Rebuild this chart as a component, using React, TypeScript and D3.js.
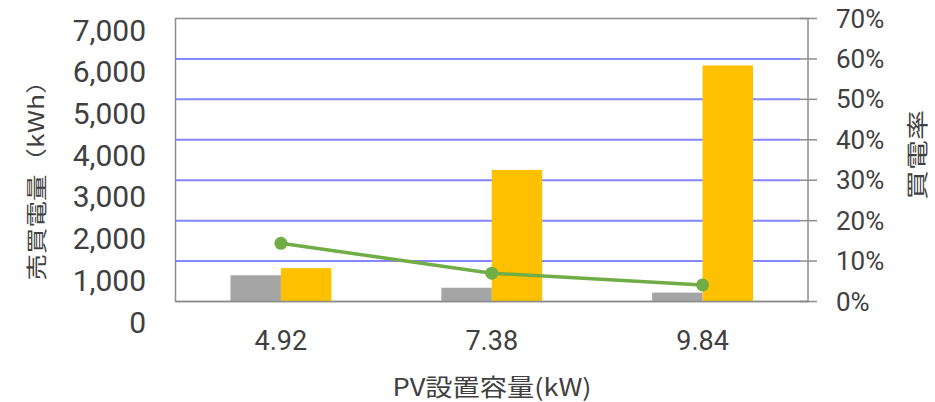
import React from "react";
import * as d3 from "d3";

const categories = ["4.92", "7.38", "9.84"];
const seriesKeys = ["buy", "sell"];
const buyPower = [648, 340, 220]; // gray bars (kWh)
const sellPower = [825, 3255, 5840]; // orange bars (kWh)
const buyRate = [0.144, 0.07, 0.041]; // green line
const leftTicks = [0, 1000, 2000, 3000, 4000, 5000, 6000, 7000];
const rightTicks = [0, 0.1, 0.2, 0.3, 0.4, 0.5, 0.6, 0.7];
const gridTicks = [0.1, 0.2, 0.3, 0.4, 0.5, 0.6];
const xTitle = "PV設置容量(kW)";
const leftTitle = "売買電量（kWh）";
const rightTitle = "買電率";

const W = 935;
const H = 402;
const plot = { left: 175.5, right: 808, top: 18.5, bottom: 301.5 };
const textColor = "#404040";
const colors = { buy: "#A5A5A5", sell: "#FFC000", line: "#70AD47", grid: "#8585FF", axis: "#8C8C8C" };

export default function App() {
  const x = d3.scaleBand<string>().domain(categories).range([plot.left, plot.right]).padding(0);
  const xInner = d3
    .scaleBand<string>()
    .domain(seriesKeys)
    .range([0, x.bandwidth()])
    .paddingInner(0)
    .paddingOuter(1.09);
  const yL = d3.scaleLinear().domain([0, 7000]).range([plot.bottom, plot.top]);
  const yR = d3.scaleLinear().domain([0, 0.7]).range([plot.bottom, plot.top]);
  const yLabel = d3.scaleLinear().domain([0, 7000]).range([322, 30]);
  const fmt = d3.format(",");
  const pct = d3.format(".0%");

  const values: Record<string, number[]> = { buy: buyPower, sell: sellPower };
  const cx = (c: string) => (x(c) ?? 0) + x.bandwidth() / 2;
  const line = d3
    .line<number>()
    .x((_, i) => cx(categories[i]))
    .y((d) => yR(d));

  return (
    <svg
      width={W}
      height={H}
      style={{ position: "absolute", left: 0, top: 0, background: "#fff" }}
      fontFamily="Roboto, 'Noto Sans', sans-serif"
    >
      <rect x={0} y={0} width={W} height={H} fill="#fff" />
      {/* gridlines */}
      {gridTicks.map((t) => (
        <line
          key={t}
          x1={plot.left}
          x2={plot.right - 8}
          y1={yR(t)}
          y2={yR(t)}
          stroke={colors.grid}
          strokeWidth={2}
        />
      ))}
      {/* plot border */}
      <rect
        x={plot.left}
        y={plot.top}
        width={plot.right - plot.left}
        height={plot.bottom - plot.top}
        fill="none"
        stroke={colors.axis}
        strokeWidth={1.5}
      />
      {/* right axis ticks */}
      {rightTicks.map((t) => (
        <line
          key={t}
          x1={plot.right - 8}
          x2={plot.right + 9}
          y1={yR(t)}
          y2={yR(t)}
          stroke={colors.axis}
          strokeWidth={1.5}
        />
      ))}
      {/* bars */}
      {categories.map((c, i) => (
        <g key={c}>
          {seriesKeys.map((k) => (
            <rect
              key={k}
              x={(x(c) ?? 0) + (xInner(k) ?? 0)}
              y={yL(values[k][i])}
              width={xInner.bandwidth()}
              height={plot.bottom - yL(values[k][i])}
              fill={colors[k as "buy" | "sell"]}
            />
          ))}
        </g>
      ))}
      {/* bottom axis line over bars */}
      <line x1={plot.left} x2={plot.right} y1={plot.bottom} y2={plot.bottom} stroke={colors.axis} strokeWidth={1.5} />
      {/* line series */}
      <path d={line(buyRate) ?? ""} fill="none" stroke={colors.line} strokeWidth={3.5} strokeLinejoin="round" />
      {buyRate.map((v, i) => (
        <circle key={i} cx={cx(categories[i])} cy={yR(v)} r={6.5} fill={colors.line} />
      ))}
      {/* left tick labels */}
      {leftTicks.map((t) => (
        <text
          key={t}
          x={146}
          y={yLabel(t)}
          textAnchor="end"
          dominantBaseline="central"
          fontSize={30}
          fill={textColor}
        >
          {fmt(t)}
        </text>
      ))}
      {/* right tick labels */}
      {rightTicks.map((t) => (
        <text
          key={t}
          x={836}
          y={yR(t)}
          textAnchor="start"
          dominantBaseline="central"
          fontSize={26}
          fill={textColor}
        >
          {pct(t)}
        </text>
      ))}
      {/* x tick labels */}
      {categories.map((c) => (
        <text key={c} x={cx(c)} y={341} textAnchor="middle" dominantBaseline="central" fontSize={27} fill={textColor}>
          {c}
        </text>
      ))}
      {/* x title */}
      <text
        x={492}
        y={385}
        textAnchor="middle"
        dominantBaseline="central"
        fontSize={24}
        fill={textColor}
        fontFamily="'Noto Sans CJK JP', sans-serif"
        textLength={199}
        lengthAdjust="spacingAndGlyphs"
      >
        {xTitle}
      </text>
      {/* left title */}
      <text
        transform="translate(35,174) rotate(-90)"
        textAnchor="middle"
        dominantBaseline="central"
        fontSize={21}
        fill={textColor}
        fontFamily="'Noto Sans CJK JP', sans-serif"
        textLength={213}
        lengthAdjust="spacingAndGlyphs"
      >
        {leftTitle}
      </text>
      {/* right title */}
      <text
        transform="translate(915,155) rotate(-90)"
        textAnchor="middle"
        dominantBaseline="central"
        fontSize={22}
        fill={textColor}
        fontFamily="'Noto Sans CJK JP', sans-serif"
        textLength={90}
        lengthAdjust="spacingAndGlyphs"
      >
        {rightTitle}
      </text>
    </svg>
  );
}
